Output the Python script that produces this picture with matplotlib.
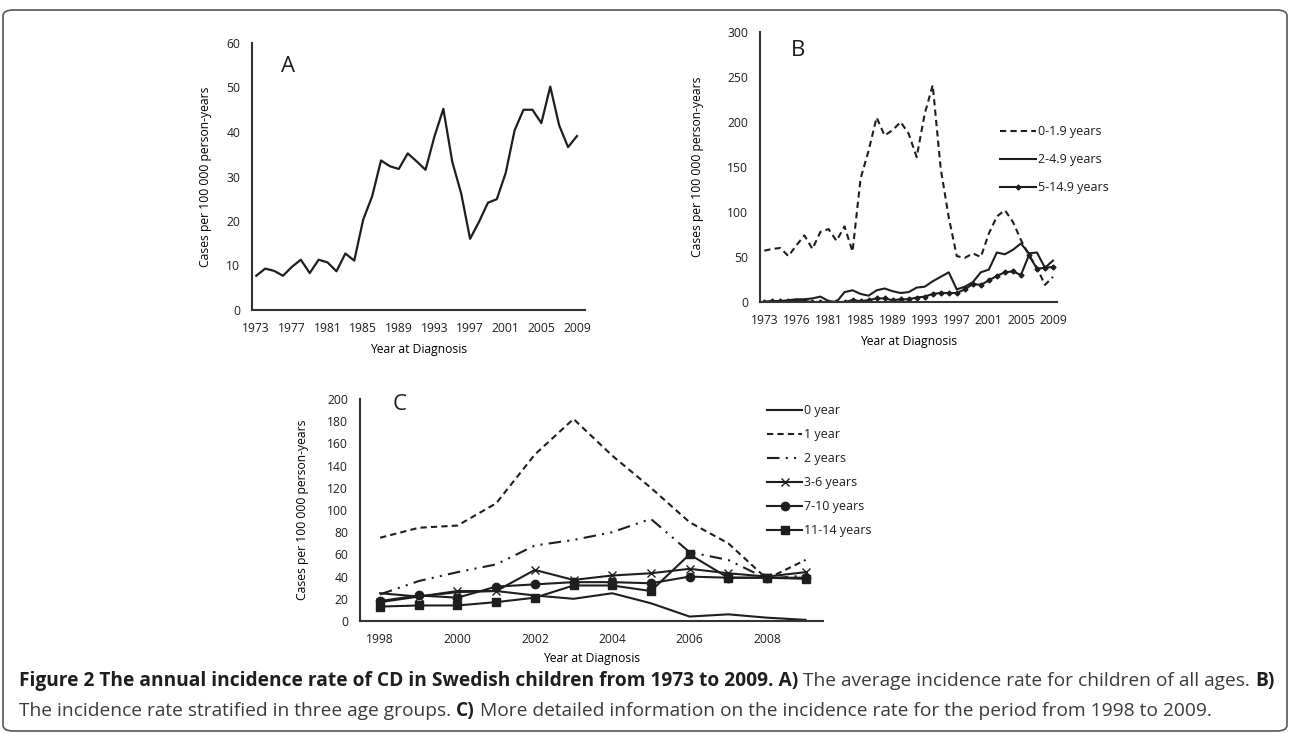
import matplotlib
matplotlib.use("Agg")
import matplotlib.pyplot as plt
from matplotlib.patches import FancyBboxPatch

# ---- data ----
years_ab = list(range(1973, 2010))
rate_all = [7.7, 9.3, 8.8, 7.7, 9.7, 11.3, 8.3, 11.3, 10.7, 8.7, 12.7, 11.1,
            20.3, 25.5, 33.6, 32.3, 31.7, 35.2, 33.4, 31.5, 39.0, 45.2, 33.3,
            26.2, 16.0, 19.8, 24.1, 24.9, 30.8, 40.4, 45.0, 45.0, 42.0, 50.2,
            41.5, 36.6, 39.1]

b_0_2 = [57, 59, 60, 51, 63, 74, 59, 78, 81, 68, 84, 56, 137, 168, 205, 185,
         191, 200, 187, 161, 209, 241, 148, 94, 51, 49, 54, 50, 76, 95, 102,
         89, 69, 52, 38, 19, 28]
b_2_5 = [0, 1, 1, 2, 3, 3, 4, 6, 1, 0, 11, 13, 9, 7, 13, 15, 12, 10, 11, 16,
         17, 23, 28, 33, 14, 17, 22, 33, 36, 55, 53, 58, 65, 54, 55, 38, 46]
b_5_15 = [0, 1, 1, 1, 1, 1, 0, 0, 0, 0, 0, 2, 1, 2, 4, 4, 2, 3, 3, 5, 6, 9,
          10, 10, 10, 14, 20, 19, 24, 29, 33, 34, 30, 52, 37, 38, 39]
b_labels = ["0-1.9 years", "2-4.9 years", "5-14.9 years"]
b_ticks = [1973, 1977, 1981, 1985, 1989, 1993, 1997, 2001, 2005, 2009]
b_ticklabels = ["1973", "1976", "1981", "1985", "1989", "1993", "1997",
                "2001", "2005", "2009"]

years_c = list(range(1998, 2010))
c_0 = [25, 22, 26, 27, 23, 20, 25, 16, 4, 6, 3, 1]
c_1 = [75, 84, 86, 106, 150, 182, 149, 120, 89, 70, 38, 55]
c_2 = [24, 36, 44, 51, 68, 73, 80, 92, 62, 55, 38, 41]
c_3_6 = [17, 22, 27, 27, 46, 37, 41, 43, 47, 43, 40, 44]
c_7_10 = [18, 23, 21, 31, 33, 35, 35, 34, 40, 39, 39, 39]
c_11_14 = [13, 14, 14, 17, 21, 32, 32, 27, 60, 39, 39, 38]
c_labels = ["0 year", "1 year", "2 years", "3-6 years", "7-10 years",
            "11-14 years"]

INK = "#1e1e1e"
W, H = 1290, 733
FS = 8.7
plt.rcParams["font.family"] = ["Open Sans", "DejaVu Sans"]
plt.rcParams["font.size"] = FS
plt.rcParams["text.color"] = INK

fig = plt.figure(figsize=(W / 100, H / 100), dpi=100)


def px_axes(l, r, b, t):
    return fig.add_axes([l / W, 1 - b / H, (r - l) / W, (b - t) / H])


def style(ax, lbl_x, lbl_y, letter, lx, ly):
    for s in ("top", "right"):
        ax.spines[s].set_visible(False)
    for s in ("left", "bottom"):
        ax.spines[s].set_linewidth(1.5)
        ax.spines[s].set_color("#333333")
    ax.tick_params(length=0, labelsize=FS, colors=INK)
    ax.tick_params(axis="x", pad=8.5)
    ax.tick_params(axis="y", pad=8.5)
    ax.set_ylabel("Cases per 100 000 person-years", fontsize=FS)
    ax.set_xlabel("Year at Diagnosis", fontsize=FS)
    ax.yaxis.set_label_coords(lbl_y, 0.5)
    ax.xaxis.set_label_coords(0.5, lbl_x)
    ax.text(lx, ly, letter, transform=ax.transAxes, fontsize=16,
            ha="center", va="center")


# ---- panel A ----
axA = px_axes(252, 585, 310, 43)
axA.plot(years_ab, rate_all, color=INK, lw=1.6)
axA.set_xlim(1972.52, 2009.9)
axA.set_ylim(0, 60)
axA.set_xticks(range(1973, 2010, 4))
axA.set_yticks(range(0, 61, 10))
style(axA, -0.125, -0.12, "A", 0.109, 0.912)

# ---- panel B ----
axB = px_axes(760, 1057, 302, 32)
axB.plot(years_ab, b_0_2, color=INK, lw=1.5, dashes=(3, 2), label=b_labels[0])
axB.plot(years_ab, b_2_5, color=INK, lw=1.5, label=b_labels[1])
axB.plot(years_ab, b_5_15, color=INK, lw=1.5, marker="D", ms=2.5,
         label=b_labels[2])
axB.set_xlim(1972.46, 2009.5)
axB.set_ylim(0, 300)
axB.set_xticks(b_ticks, b_ticklabels)
axB.set_yticks(range(0, 301, 50))
style(axB, -0.122, -0.189, "B", 0.128, 0.932)
axB.legend(loc="upper left", bbox_to_anchor=(1000 / W, 1 - 125 / H),
           bbox_transform=fig.transFigure, frameon=False, fontsize=9,
           handlelength=2.9, handletextpad=0.15, labelspacing=1.2,
           borderpad=0, borderaxespad=0)

# ---- panel C ----
axC = px_axes(360, 823, 621, 399)
axC.plot(years_c, c_0, color=INK, lw=1.5, label=c_labels[0])
axC.plot(years_c, c_1, color=INK, lw=1.5, dashes=(3, 2), label=c_labels[1])
axC.plot(years_c, c_2, color=INK, lw=1.5, dashes=(6, 3, 1, 3, 1, 3),
         label=c_labels[2])
axC.plot(years_c, c_3_6, color=INK, lw=1.5, marker="x", ms=6, mew=1,
         label=c_labels[3])
axC.plot(years_c, c_7_10, color=INK, lw=1.5, marker="o", ms=6,
         label=c_labels[4])
axC.plot(years_c, c_11_14, color=INK, lw=1.5, marker="s", ms=6,
         label=c_labels[5])
axC.set_xlim(1997.48, 2009.45)
axC.set_ylim(0, 200)
axC.set_xticks(range(1998, 2009, 2))
axC.set_yticks(range(0, 201, 20))
style(axC, -0.14, -0.11, "C", 0.086, 0.974)
axC.legend(loc="upper left", bbox_to_anchor=(767 / W, 1 - 404 / H),
           bbox_transform=fig.transFigure, frameon=False, fontsize=9,
           handlelength=2.8, handletextpad=0.15, labelspacing=0.88,
           borderpad=0, borderaxespad=0)

# ---- frame ----
fig.patches.append(FancyBboxPatch((3 / W, 2 / H), 1284 / W, 721 / H,
                                  boxstyle="round,pad=0,rounding_size=0.008",
                                  transform=fig.transFigure, fill=False,
                                  edgecolor="#555555", lw=1.2))

# ---- caption ----
cap_font = ["Open Sans", "DejaVu Sans"]
line1 = [("Figure 2 The annual incidence rate of CD in Swedish children "
          "from 1973 to 2009. A)", "bold"),
         (" The average incidence rate for children of all ages. ", "normal"),
         ("B)", "bold")]
line2 = [("The incidence rate stratified in three age groups. ", "normal"),
         ("C)", "bold"),
         (" More detailed information on the incidence rate for the period "
          "from 1998 to 2009.", "normal")]

renderer = fig.canvas.get_renderer()


def draw_line(parts, x0, y, size):
    x = x0
    texts = []
    for s, w in parts:
        t = fig.text(x / W, 1 - y / H, s, fontsize=size, fontweight=w,
                     family=cap_font, va="center", ha="left",
                     color=INK if w == "bold" else "#3a3a3a")
        x += t.get_window_extent(renderer).width
        texts.append(t)
    return texts, x - x0


size = 12
tmp, width = draw_line(line1, 19, 681, size)
for t in tmp:
    t.remove()
size = size * (1249 / width)
draw_line(line1, 19, 681, size)
draw_line(line2, 19, 711, size)

fig.savefig("out.png", dpi=100, facecolor="white")
